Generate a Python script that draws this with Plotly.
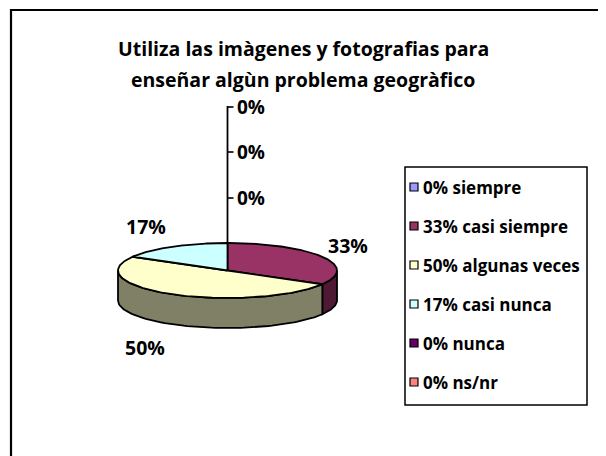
import numpy as np
import plotly.graph_objects as go

# ---- data ----
categories = ["siempre", "casi siempre", "algunas veces", "casi nunca", "nunca", "ns/nr"]
values = [0, 2, 3, 1, 0, 0]           # counts -> 0%, 33%, 50%, 17%, 0%, 0%
top_colors = ["#9999FF", "#993366", "#FFFFCC", "#CCFFFF", "#660066", "#FF8080"]
side_colors = ["#4D4D80", "#4D1933", "#808066", "#668080", "#330033", "#804040"]
title_lines = ["Utiliza las imàgenes y fotografias para", "enseñar algùn problema geogràfico"]

total = sum(values)
pcts = [round(100 * v / total) for v in values]
legend_labels = [f"{p}% {c}" for p, c in zip(pcts, categories)]

# ---- geometry (page pixel space; page has an 8px body margin) ----
W, H = 606, 456
OFF = 8
cx, cy, rx, ry, depth = 227.5, 270.5, 109.5, 27.5, 30
FONT = "Open Sans"

def pt(theta_deg):
    t = np.radians(theta_deg)
    return cx + rx * np.sin(t), cy - ry * np.cos(t)

fig = go.Figure()

angles = []
acc = 0.0
for v in values:
    a0 = acc
    acc += 360.0 * v / total
    angles.append((a0, acc))

# sides (front half: 90..270)
for (a0, a1), col in zip(angles, side_colors):
    s0, s1 = max(a0, 90), min(a1, 270)
    if s1 <= s0:
        continue
    th = np.linspace(s0, s1, 80)
    xs, ys = pt(th)
    X = np.concatenate([xs, xs[::-1], xs[:1]])
    Y = np.concatenate([ys, ys[::-1] + depth, ys[:1]])
    fig.add_trace(go.Scatter(x=X, y=Y, mode="lines", fill="toself", fillcolor=col,
                             line=dict(color="black", width=1.8), hoverinfo="skip",
                             showlegend=False))

# tops
for (a0, a1), col in zip(angles, top_colors):
    if a1 - a0 <= 0:
        continue
    th = np.linspace(a0, a1, 120)
    xs, ys = pt(th)
    X = np.concatenate([[cx], xs, [cx]])
    Y = np.concatenate([[cy], ys, [cy]])
    fig.add_trace(go.Scatter(x=X, y=Y, mode="lines", fill="toself", fillcolor=col,
                             line=dict(color="black", width=1.8), hoverinfo="skip",
                             showlegend=False))

# leader line for the zero slices
tx, ty = pt(0)
zero_label_y = [107, 152, 198]
fig.add_trace(go.Scatter(x=[tx, tx], y=[ty, zero_label_y[0] - 1], mode="lines",
                         line=dict(color="black", width=1.8), hoverinfo="skip", showlegend=False))
for yy in zero_label_y:
    fig.add_trace(go.Scatter(x=[tx, tx + 6], y=[yy, yy], mode="lines",
                             line=dict(color="black", width=1.6), hoverinfo="skip", showlegend=False))

annotations = []
zero_idx = [i for i, p in enumerate(pcts) if p == 0]
for i, yy in zip(zero_idx, zero_label_y):
    annotations.append(dict(x=tx + 7, y=yy, text=f"<b>{pcts[i]}%</b>", showarrow=False,
                            xanchor="left", yanchor="middle",
                            font=dict(family=FONT, size=19, color="black")))

# nonzero data labels
label_pos = {1: (348, 245), 2: (145, 347), 3: (146, 226)}
for i, (lx, ly) in label_pos.items():
    annotations.append(dict(x=lx, y=ly, text=f"<b>{pcts[i]}%</b>", showarrow=False,
                            xanchor="center", yanchor="middle",
                            font=dict(family=FONT, size=19.5, color="black")))

# title
for line, yy in zip(title_lines, [48, 79]):
    annotations.append(dict(x=303, y=yy, text=f"<b>{line}</b>", showarrow=False,
                            xanchor="center", yanchor="middle",
                            font=dict(family=FONT, size=19.5, color="black")))

# legend (manual)
leg_y = [187, 226, 265, 304, 343, 382]
fig.add_trace(go.Scatter(x=[414] * len(leg_y), y=leg_y, mode="markers",
                         marker=dict(symbol="square", size=8, color=top_colors,
                                     line=dict(color="black", width=1.2)),
                         hoverinfo="skip", showlegend=False))
for lab, yy in zip(legend_labels, leg_y):
    annotations.append(dict(x=421, y=yy, text=f"<b>{lab}</b>", showarrow=False,
                            xanchor="left", yanchor="middle",
                            font=dict(family=FONT, size=17, color="black")))

shapes = [
    dict(type="rect", x0=405, y0=167, x1=587, y1=405, line=dict(color="black", width=1.5)),
    dict(type="rect", x0=11, y0=10, x1=640, y1=490, line=dict(color="black", width=2.2)),
]

fig.update_layout(
    width=W, height=H, margin=dict(l=0, r=0, t=0, b=0),
    paper_bgcolor="white", plot_bgcolor="white",
    xaxis=dict(range=[OFF, W + OFF], visible=False, fixedrange=True),
    yaxis=dict(range=[H + OFF, OFF], visible=False, fixedrange=True),
    annotations=annotations, shapes=shapes, showlegend=False,
)

fig.write_html("out.html")
